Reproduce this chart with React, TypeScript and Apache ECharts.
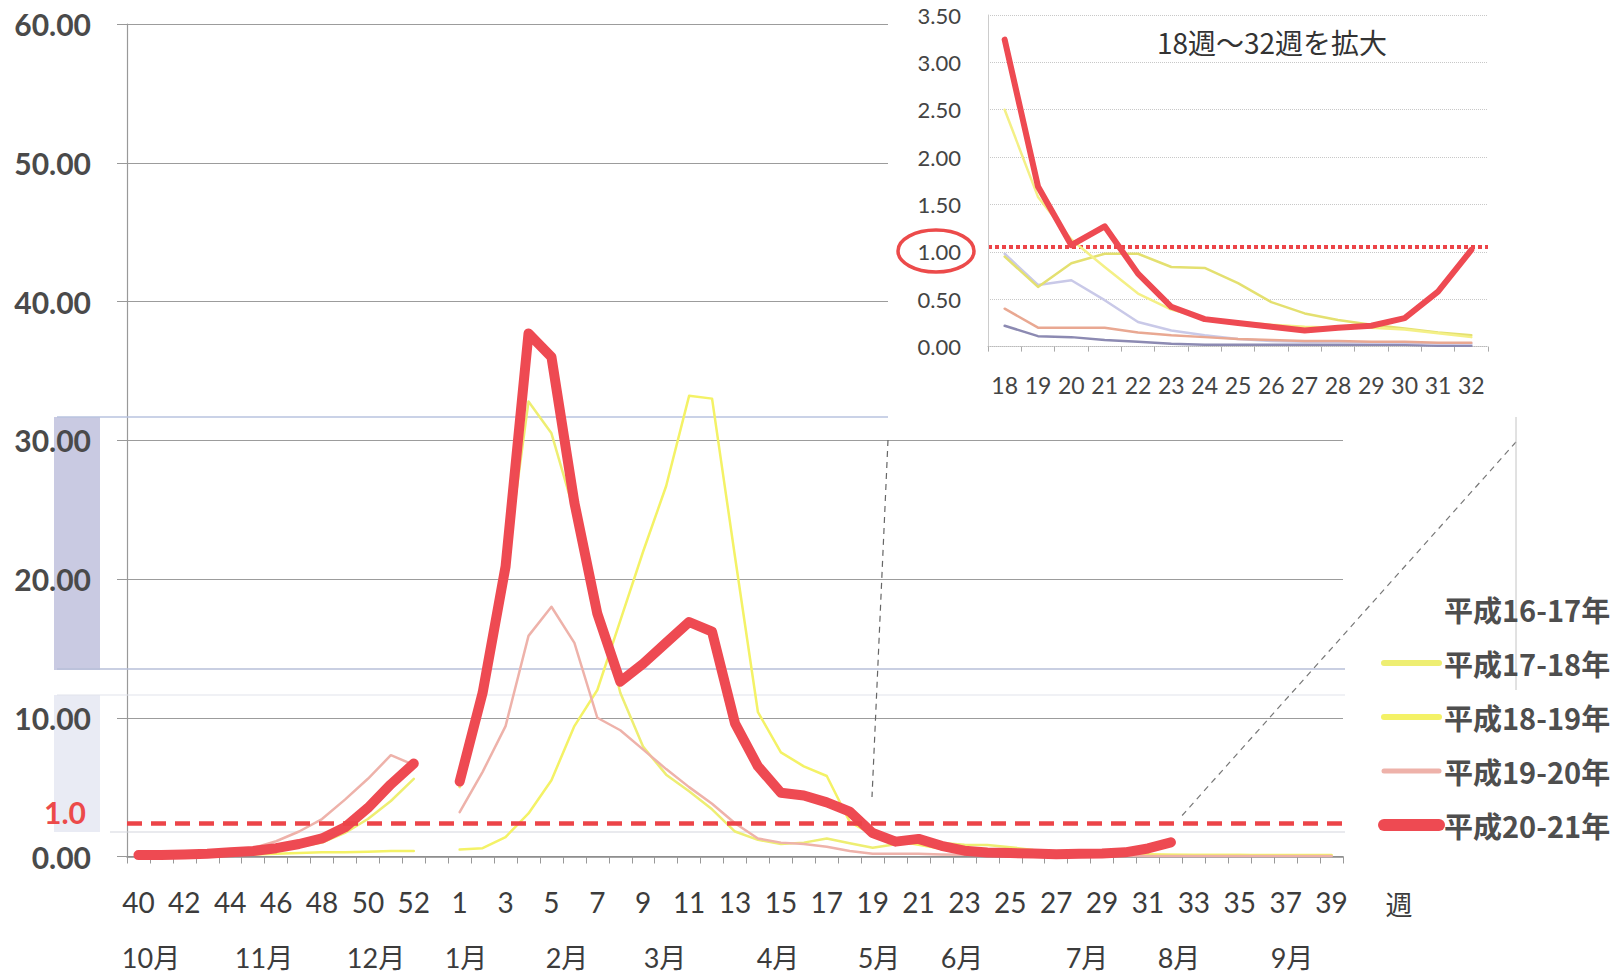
import React, { useEffect, useRef } from 'react';
import * as echarts from 'echarts';

// Week categories (Oct wk40 .. Sep wk39, wk53 kept as an empty slot)
const weeks = ['40','41','42','43','44','45','46','47','48','49','50','51','52','53',
  '1','2','3','4','5','6','7','8','9','10','11','12','13','14','15','16','17','18','19','20',
  '21','22','23','24','25','26','27','28','29','30','31','32','33','34','35','36','37','38','39'];

const s1617: (number | null)[] = weeks.map(() => null);

const s1718 = [0.1,0.1,0.1,0.15,0.2,0.3,0.45,0.7,1.0,1.7,2.7,4.0,5.6,null,
  5.0,11.0,20.5,32.8,30.5,24.8,18.3,11.8,7.9,5.9,4.7,3.4,1.8,1.2,0.9,1.0,1.3,0.95,0.63,0.88,
  0.98,0.98,0.84,0.83,0.67,0.47,0.35,0.28,0.23,0.19,0.15,0.12,0.1,0.1,0.1,0.08,0.08,0.08,0.08];

const s1819 = [0.05,0.05,0.08,0.1,0.12,0.15,0.2,0.25,0.3,0.3,0.35,0.4,0.4,null,
  0.5,0.6,1.4,3.1,5.5,9.4,12.0,17.0,22.0,26.7,33.2,33.0,21.6,10.4,7.5,6.5,5.8,2.5,1.58,1.13,
  0.84,0.56,0.39,0.3,0.26,0.23,0.21,0.2,0.2,0.18,0.14,0.1,0.1,0.1,0.1,0.1,0.1,0.1,0.1];

const s1920 = [0,0.02,0.05,0.1,0.25,0.6,1.1,1.8,2.7,4.1,5.6,7.3,6.6,null,
  3.2,6.1,9.4,15.9,18.0,15.4,10.0,9.1,7.7,6.3,5.0,3.8,2.4,1.3,1.0,0.9,0.7,0.4,0.2,0.2,
  0.2,0.15,0.12,0.1,0.08,0.07,0.06,0.06,0.05,0.05,0.04,0.04,0.04,0.04,0.03,0.03,0.03,0.03,0.03];

const s2021 = [0.1,0.1,0.15,0.2,0.3,0.4,0.6,0.9,1.3,2.1,3.5,5.2,6.7,null,
  5.4,11.8,20.9,37.7,36.0,25.5,17.5,12.6,13.9,15.4,16.9,16.2,9.6,6.5,4.6,4.4,3.9,3.24,1.69,1.07,
  1.27,0.77,0.42,0.29,0.25,0.21,0.17,0.2,0.22,0.3,0.58,1.02,null,null,null,null,null,null,null];

// extra lines visible only in the enlarged panel (weeks 18-32)
const insetLavender = [0.98,0.65,0.7,0.49,0.26,0.17,0.12,0.08,0.06,0.05,0.05,0.04,0.04,0.03,0.03];
const insetPurple = [0.22,0.11,0.1,0.07,0.05,0.03,0.02,0.02,0.02,0.02,0.02,0.02,0.02,0.01,0.01];

const mainTicks = [0, 10, 20, 30, 40, 50, 60];
const insetTicks = [0, 0.5, 1, 1.5, 2, 2.5, 3, 3.5];
const thresholdMain = 2.4; // drawn position of the "1.0" reference line
const thresholdInset = 1.05;

const months = ['10月','11月','12月','1月','2月','3月','4月','5月','6月','7月','8月','9月'];
const monthX = [151, 264, 376, 466, 567, 665, 778, 879, 962, 1087, 1179, 1292];

const legendNames = ['平成16-17年','平成17-18年','平成18-19年','平成19-20年','平成20-21年'];

const FONT = "Lato, 'Noto Sans CJK JP', sans-serif";
const JP = "'Noto Sans CJK JP', sans-serif";
const RED = '#ee4a52';

export default function App() {
  const ref = useRef<HTMLDivElement>(null);
  useEffect(() => {
    const chart = echarts.init(ref.current!, null, { renderer: 'svg' });
    const i18 = weeks.indexOf('18');
    const i32 = weeks.indexOf('32');
    const sl = (a: (number | null)[]) => a.slice(i18, i32 + 1);
    const insetWeeks = weeks.slice(i18, i32 + 1);

    const mainLine = (name: string, data: any[], color: string, width: number, z: number) => ({
      name, type: 'line', data, xAxisIndex: 0, yAxisIndex: 0, symbol: 'none', z,
      color, connectNulls: false,
      lineStyle: { color, width, cap: 'round', join: 'round' },
    });
    const insetLine = (name: string, data: any[], color: string, width: number, z: number) => ({
      name, type: 'line', data, xAxisIndex: 1, yAxisIndex: 1, symbol: 'none', z,
      color, lineStyle: { color, width, cap: 'round', join: 'round' },
    });

    const graphics: any[] = [
      // label-column bands and pasted-image edges
      { type: 'rect', shape: { x: 54, y: 417, width: 46, height: 253 }, style: { fill: '#c9cae2' }, z: -1, silent: true },
      { type: 'rect', shape: { x: 54, y: 695, width: 46, height: 137 }, style: { fill: '#e9ebf4' }, z: -1, silent: true },
      { type: 'line', shape: { x1: 57, y1: 417, x2: 888, y2: 417 }, style: { stroke: '#b9c3df', lineWidth: 1.5 }, z: 1, silent: true },
      { type: 'line', shape: { x1: 57, y1: 669, x2: 1345, y2: 669 }, style: { stroke: '#b7bfd8', lineWidth: 1.5 }, z: 1, silent: true },
      { type: 'line', shape: { x1: 57, y1: 695, x2: 1345, y2: 695 }, style: { stroke: '#e2e4ec', lineWidth: 1.2 }, z: 1, silent: true },
      { type: 'line', shape: { x1: 110, y1: 832, x2: 1345, y2: 832 }, style: { stroke: '#d4d6de', lineWidth: 1.2 }, z: 1, silent: true },
      // inset cover
      { type: 'rect', shape: { x: 888, y: 0, width: 734, height: 408 }, style: { fill: '#ffffff' }, z: 3, silent: true },
      // connector lines
      { type: 'line', shape: { x1: 888, y1: 440, x2: 872, y2: 797 }, style: { stroke: '#666', lineWidth: 1.2, lineDash: [6, 5] }, z: 1, silent: true },
      { type: 'line', shape: { x1: 1516, y1: 442, x2: 1179, y2: 819 }, style: { stroke: '#777', lineWidth: 1.2, lineDash: [6, 5] }, z: 1, silent: true },
      { type: 'line', shape: { x1: 1516, y1: 417, x2: 1516, y2: 690 }, style: { stroke: '#c4c4c4', lineWidth: 1 }, z: 1, silent: true },
      // texts
      { type: 'text', x: 65, y: 812, style: { text: '1.0', fill: '#ec4a4a', fontSize: 30, fontFamily: FONT, fontWeight: 'bold', align: 'center', verticalAlign: 'middle' }, z: 10 },
      { type: 'text', x: 1399, y: 903, style: { text: '週', fill: '#3c3c3c', fontSize: 27, fontFamily: JP, align: 'center', verticalAlign: 'middle' }, z: 10 },
      { type: 'text', x: 1272, y: 42, style: { text: '18週～32週を拡大', fill: '#333', fontSize: 28, fontFamily: JP, align: 'center', verticalAlign: 'middle' }, z: 10 },
      { type: 'ellipse', shape: { cx: 936, cy: 251, rx: 38, ry: 21 }, style: { fill: 'none', stroke: '#ec4a4a', lineWidth: 3.5 }, z: 10, silent: true },
      ...months.map((m, i) => ({
        type: 'text', x: monthX[i], y: 957,
        style: { text: m, fill: '#3c3c3c', fontSize: 27, fontFamily: FONT, align: 'center', verticalAlign: 'middle' }, z: 10,
      })),
    ];

    chart.setOption({
      animation: false,
      backgroundColor: '#ffffff',
      grid: [
        { left: 127, right: 279, top: 24, bottom: 117.5 },
        { left: 988, right: 134, top: 15, bottom: 627.4 },
      ],
      legend: {
        left: 1373, top: 587, orient: 'vertical', itemWidth: 55, itemHeight: 14, itemGap: 20,
        selectedMode: false,
        itemStyle: { opacity: 0 },
        textStyle: { fontSize: 29, fontWeight: 'bold', color: '#4e4e4e', fontFamily: JP, lineHeight: 34 },
        data: [
          { name: legendNames[0] },
          { name: legendNames[1], lineStyle: { width: 6 } },
          { name: legendNames[2], lineStyle: { width: 6 } },
          { name: legendNames[3], lineStyle: { width: 5 } },
          { name: legendNames[4], lineStyle: { width: 12 } },
        ],
      },
      xAxis: [
        {
          type: 'category', gridIndex: 0, data: weeks, boundaryGap: true,
          axisLine: { lineStyle: { color: '#8a8a8a', width: 1.5 } },
          axisTick: { show: true, interval: 0, length: 7, lineStyle: { color: '#999' } },
          axisLabel: { interval: 1, fontSize: 28, color: '#3c3c3c', fontFamily: FONT, margin: 31 },
          splitLine: { show: false },
        },
        {
          type: 'category', gridIndex: 1, data: insetWeeks, boundaryGap: true, z: 5,
          axisLine: { lineStyle: { color: '#bbbbbb', width: 1, type: 'dotted' } },
          axisTick: { show: true, interval: 0, length: 5, lineStyle: { color: '#aaa' } },
          axisLabel: { interval: 0, fontSize: 23, color: '#444', fontFamily: FONT, margin: 27 },
          splitLine: { show: false },
        },
      ],
      yAxis: [
        {
          type: 'value', gridIndex: 0, min: mainTicks[0], max: mainTicks[mainTicks.length - 1], interval: 10,
          axisLine: { show: true, lineStyle: { color: '#999', width: 1.2 } },
          axisTick: { show: true, length: 10, lineStyle: { color: '#999' } },
          axisLabel: { formatter: (v: number) => v.toFixed(2), fontSize: 30, fontWeight: 'bold', color: '#4a4a4a', fontFamily: FONT, margin: 36 },
          splitLine: { lineStyle: { color: '#9c9c9c', width: 1.2 } },
        },
        {
          type: 'value', gridIndex: 1, min: insetTicks[0], max: insetTicks[insetTicks.length - 1], interval: 0.5, z: 5,
          axisLine: { show: true, lineStyle: { color: '#cccccc', width: 1 } },
          axisTick: { show: false },
          axisLabel: { formatter: (v: number) => v.toFixed(2), fontSize: 22, color: '#444', fontFamily: FONT, margin: 27 },
          splitLine: { lineStyle: { color: '#c8c8c8', width: 1, type: 'dotted' } },
        },
      ],
      series: [
        mainLine(legendNames[0], s1617, 'rgba(0,0,0,0)', 2, 2),
        mainLine(legendNames[1], s1718, '#eeee72', 2.5, 2),
        mainLine(legendNames[2], s1819, '#f4f266', 2.5, 2),
        mainLine(legendNames[3], s1920, '#eeb2aa', 2.5, 2),
        {
          ...mainLine(legendNames[4], s2021, RED, 10, 3),
          markLine: {
            silent: true, symbol: 'none', label: { show: false },
            lineStyle: { color: '#ec4448', width: 4.5, type: [15, 9] },
            data: [{ yAxis: thresholdMain }],
          },
        },
        insetLine('inset-purple', insetPurple, '#8c8ab2', 2.5, 6),
        insetLine('inset-lavender', insetLavender, '#c9c9e8', 2.5, 6),
        insetLine('inset-1920', sl(s1920), '#e9a892', 2.5, 6),
        insetLine('inset-1718', sl(s1718), '#e4e070', 2.5, 6),
        insetLine('inset-1819', sl(s1819), '#f4f086', 2.5, 6),
        {
          ...insetLine('inset-2021', sl(s2021), RED, 6, 7),
          markLine: {
            silent: true, symbol: 'none', label: { show: false },
            lineStyle: { color: '#ec4448', width: 4, type: [4, 3] },
            data: [{ yAxis: thresholdInset }],
          },
        },
      ],
      graphic: { elements: graphics },
    });
    return () => chart.dispose();
  }, []);
  return (
    <div
      ref={ref}
      style={{ position: 'fixed', left: 0, top: 0, width: 1622, height: 974, background: '#fff' }}
    />
  );
}
